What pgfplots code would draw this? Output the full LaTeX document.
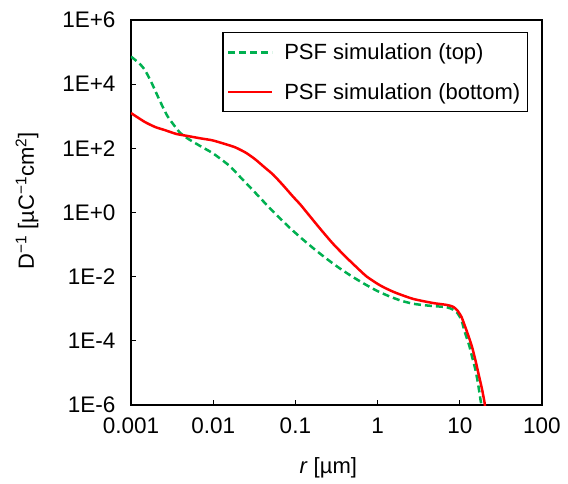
\documentclass[border=0pt]{standalone}
\usepackage{fontspec}
\setmainfont{Liberation Sans}
\usepackage{pgfplots}
\pgfplotsset{compat=1.18}
\definecolor{xlgreen}{RGB}{0,176,80}
\definecolor{xlred}{RGB}{255,0,0}
\begin{document}
\begin{tikzpicture}
\begin{axis}[
  scale only axis,
  width=411bp, height=385bp,
  xmode=log, ymode=log,
  xmin=0.001, xmax=100, ymin=1e-6, ymax=1e6,
  xtick={0.001,0.01,0.1,1,10,100},
  xticklabels={0.001,0.01,0.1,1,10,100},
  ytick={1e-6,1e-4,1e-2,1,1e2,1e4,1e6},
  yticklabels={1E-6,1E-4,1E-2,1E+0,1E+2,1E+4,1E+6},
  xminorticks=false, yminorticks=false,
  tick align=inside, xtick pos=bottom, ytick pos=left,
  major tick length=5bp,
  tick style={black, line width=1.2bp},
  axis line style={black, line width=1.5bp},
  tick label style={font=\fontsize{22.5bp}{27bp}\selectfont},
  yticklabel style={xshift=-12bp},
  xticklabel style={yshift=-9bp},
  xlabel={\textit{r} [µm]},
  ylabel={D\textsuperscript{−1} [µC\textsuperscript{−1}cm\textsuperscript{2}]},
  label style={font=\fontsize{22bp}{26bp}\selectfont},
  xlabel style={at={(axis description cs:0.48,-0.164)}, anchor=center},
  ylabel style={at={(axis description cs:-0.253,0.53)}, anchor=center},
  legend style={at={(axis description cs:0.966,0.969)}, anchor=north east,
    draw=black, line width=1.5bp, font=\fontsize{22bp}{26bp}\selectfont,
    inner xsep=4bp, inner ysep=8bp, row sep=16bp,
    nodes={inner sep=3bp}},
  legend cell align=left,
  legend image code/.code={\draw[#1] (0bp,0bp) -- (44bp,0bp); \path (52bp,0bp);},
]
\addplot[xlgreen, line width=2.5bp, dash pattern=on 7bp off 4bp, smooth, tension=0.4] table {
x y
0.001 7.24e4
0.001259 4.47e4
0.001479 2.75e4
0.001778 1.12e4
0.002138 3.98e3
0.002512 1.66e3
0.002818 955
0.003388 501
0.003981 302
0.005012 195
0.007079 115
0.01 69.2
0.01585 28.2
0.02239 11.2
0.03162 4.47
0.04467 1.74
0.0631 0.708
0.0891 0.302
0.1259 0.138
0.1778 0.0661
0.2512 0.0331
0.3548 0.0174
0.5012 9.77e-3
0.7079 5.75e-3
1.0 3.55e-3
1.413 2.40e-3
1.995 1.74e-3
2.818 1.41e-3
4.467 1.23e-3
6.918 1.12e-3
8.318 9.33e-4
9.333 7.41e-4
10.47 4.47e-4
11.48 1.91e-4
12.88 7.94e-5
14.13 3.16e-5
15.49 1.26e-5
16.60 5.01e-6
17.78 1.58e-6
18.62 7.94e-7
};
\addlegendentry{PSF simulation (top)}
\addplot[xlred, line width=2.5bp, smooth, tension=0.4] table {
x y
0.001 1259
0.001479 661
0.001995 457
0.00257 372
0.003548 282
0.004786 245
0.007079 204
0.00977 178
0.01413 135
0.01862 107
0.02512 72.4
0.03236 45.7
0.04169 26.3
0.0537 15.1
0.0708 7.08
0.0933 3.16
0.1148 1.78
0.138 1.0
0.1995 0.316
0.2884 0.105
0.417 0.0398
0.5623 0.0191
0.741 0.01
1.072 5.37e-3
1.585 3.31e-3
2.692 2.04e-3
4.73 1.51e-3
6.918 1.32e-3
8.318 1.15e-3
9.333 8.91e-4
10.47 5.62e-4
11.48 3.02e-4
12.88 1.32e-4
14.13 6.31e-5
15.49 2.51e-5
16.98 8.91e-6
18.62 3.16e-6
19.95 1.26e-6
20.42 7.94e-7
};
\addlegendentry{PSF simulation (bottom)}
\coordinate (bbsw) at (axis description cs:-0.3187,-0.2026);
\coordinate (bbne) at (axis description cs:1.0633,1.052);
\end{axis}
\pgfresetboundingbox
\path[use as bounding box] (bbsw) rectangle (bbne);
\end{tikzpicture}
\end{document}
